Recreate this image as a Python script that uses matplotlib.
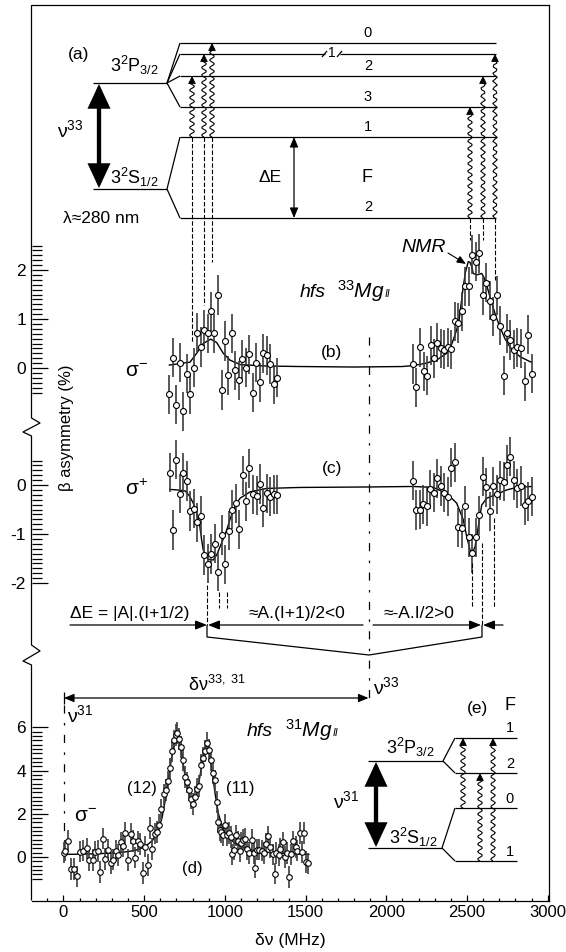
import numpy as np
import matplotlib
matplotlib.use('Agg')
import matplotlib.pyplot as plt
from matplotlib.ticker import FixedLocator, MultipleLocator

plt.rcParams['font.family'] = ['Liberation Sans', 'DejaVu Sans']
plt.rcParams['mathtext.fontset'] = 'custom'
plt.rcParams['mathtext.rm'] = 'Liberation Sans'
plt.rcParams['mathtext.it'] = 'Liberation Sans:italic'
plt.rcParams['mathtext.bf'] = 'Liberation Sans:bold'
plt.rcParams['axes.unicode_minus'] = False

# ------------------------------------------------------------------
# data: frequency offset (MHz) and beta asymmetry (%)
# ------------------------------------------------------------------
# (b) 33Mg, sigma-
b_left_mhz = [656, 677, 699, 722, 742, 765, 784, 807, 829, 852, 873, 895, 914, 934, 957, 980,
              1001, 1021, 1044, 1065, 1085, 1109, 1131, 1151, 1172, 1195, 1216, 1238, 1259, 1281, 1304, 1325]
b_left_asym = [-0.54, 0.21, -0.75, 0.11, -0.88, -0.12, -0.54, 0.01, 0.72, 0.43, 0.78, 0.71, 1.16, 0.71, 1.49, -0.45,
               0.55, -0.15, 0.71, -0.05, -0.25, 0.18, 0.01, 0.28, -0.5, 0.11, -0.29, 0.3, 0.26, 0.08, -0.33, -0.2]
b_right_mhz = [2167, 2186, 2209, 2232, 2252, 2275, 2296, 2316, 2337, 2359, 2382, 2403, 2424, 2446, 2469, 2490, 2512, 2531,
               2554, 2576, 2597, 2620, 2641, 2663, 2684, 2705, 2727, 2748, 2768, 2791, 2812, 2835, 2857, 2878, 2901]
b_right_asym = [0.08, -0.39, 0.42, -0.07, -0.16, 0.46, 0.2, 0.52, 0.4, 0.37, 0.42, 0.38, 0.95, 0.92, 1.16, 1.67, 1.67, 2.31,
                2.17, 2.34, 1.48, 1.74, 1.37, 1.05, 1.48, 0.86, -0.16, 0.71, 0.57, 0.37, 0.42, 0.4, -0.27, 0.68, -0.12]
fit_b_mhz = [656, 784, 825, 866, 912, 949, 990, 1032, 1094, 1259, 1465, 1800, 2100, 2167, 2250, 2320, 2374, 2405, 2436, 2450,
             2465, 2477, 2490, 2508, 2518, 2529, 2539, 2560, 2591, 2605, 2622, 2640, 2663, 2683, 2704, 2735, 2766, 2797,
             2829, 2890, 2901]
fit_b_asym = [0.06, 0.12, 0.3, 0.5, 0.59, 0.52, 0.3, 0.16, 0.07, 0.04, 0.03, 0.02, 0.03, 0.05, 0.1, 0.18, 0.3, 0.48, 0.78, 0.95,
              1.35, 1.66, 1.95, 2.17, 2.16, 2.07, 1.93, 1.9, 1.93, 1.85, 1.69, 1.48, 1.22, 1.02, 0.84, 0.6, 0.43, 0.32,
              0.23, 0.13, 0.12]

# (c) 33Mg, sigma+
c_left_mhz = [658, 678, 699, 722, 742, 765, 786, 809, 829, 852, 873, 895, 914, 937, 957, 980,
              1003, 1023, 1046, 1067, 1087, 1110, 1131, 1151, 1174, 1197, 1217, 1238, 1261, 1281, 1304, 1325]
c_left_asym = [0.25, -0.92, 0.52, -0.18, 0.25, 0.08, -0.53, -0.48, -0.76, -0.63, -1.43, -1.61, -1.41, -1.2, -1.77, -1.02,
               -1.62, -0.93, -0.5, -0.37, -0.9, 0.2, -0.33, 0.34, -0.19, -0.22, 0.02, -0.46, -0.17, -0.24, -0.19, -0.2]
c_right_mhz = [2167, 2186, 2209, 2229, 2252, 2273, 2296, 2316, 2337, 2359, 2382, 2403, 2424, 2446, 2469, 2490, 2511, 2531,
               2554, 2576, 2597, 2620, 2641, 2663, 2684, 2705, 2727, 2748, 2768, 2791, 2812, 2835, 2857, 2878, 2901]
c_right_asym = [0.09, -0.51, -0.5, -0.39, -0.43, -0.09, -0.16, 0.14, -0.02, -0.16, -0.24, 0.35, 0.46, -0.86, -0.88, -0.43,
                -1.07, -1.39, -1.07, -0.62, 0.17, -0.05, -0.54, -0.03, -0.19, 0.1, 0.07, 0.41, 0.58, 0.1, -0.07, -0.02,
                -0.41, -0.33, -0.24]
fit_c_mhz = [658, 700, 753, 780, 804, 825, 842, 855, 866, 897, 928, 950, 970, 990, 1011, 1030, 1052, 1072, 1094, 1156,
             1259, 1465, 1900, 2167, 2291, 2374, 2436, 2477, 2498, 2519, 2533, 2550, 2570, 2591, 2622, 2684, 2746, 2808, 2901]
fit_c_asym = [-0.09, -0.1, -0.12, -0.22, -0.37, -0.58, -0.78, -1.1, -1.33, -1.52, -1.53, -1.42, -1.26, -1.1, -0.92, -0.72,
              -0.51, -0.38, -0.27, -0.14, -0.07, -0.05, -0.04, -0.03, -0.05, -0.17, -0.37, -0.71, -1.05, -1.33, -1.39,
              -1.26, -0.85, -0.41, -0.27, -0.19, -0.1, -0.05, -0.03]

# (d) 31Mg, sigma-
d_mhz = [2, 12, 27, 47, 65, 83, 103, 123, 143, 161,
         181, 197, 211, 226, 244, 260, 276, 293, 309, 325,
         338, 354, 370, 383, 399, 417, 432, 446, 459, 475,
         491, 504, 522, 538, 551, 564, 580, 594, 607, 620,
         633, 645, 660, 672, 683, 695, 705, 717, 728, 740,
         751, 763, 776, 788, 801, 815, 828, 840, 852, 862,
         875, 891, 903, 914, 926, 939, 950, 958, 968, 978,
         990, 1000, 1010, 1024, 1035, 1046, 1057, 1068, 1080, 1091,
         1102, 1113, 1124, 1138, 1151, 1165, 1178, 1187, 1201, 1214,
         1228, 1241, 1254, 1268, 1281, 1295, 1308, 1319, 1333, 1344,
         1357, 1371, 1382, 1398, 1411, 1425, 1440, 1449, 1463, 1476,
         1487, 1501, 1512]
d_asym = [0.2, 0.3, 0.75, -0.55, -0.55, -0.9, 0.25, 0.3, 0.4, -0.15,
          -0.15, 0.22, 0.28, -0.7, 0.85, -0.08, 0.32, -0.3, -0.12, 0.3,
          0.08, 0.68, 0.52, 1.1, -0.15, 1.08, 0.75, -0.03, 0.72, 0.6,
          -0.75, 0.48, -0.38, 1.35, 0.38, 1.08, 1.15, 1.5, 2.2, 2.9,
          3.1, 3.5, 4.1, 4.9, 5.4, 5.65, 5.75, 5.45, 5.1, 4.5,
          3.7, 3.45, 3.1, 2.7, 2.45, 2.8, 3.15, 3.3, 4.25, 4.6,
          4.9, 5.3, 4.95, 4.5, 3.9, 3.55, 2.55, 1.6, 1.25, 1.15,
          1.03, 1.5, 1.0, 1.1, 0.92, 0.12, 0.34, 1.0, 0.72, 0.26,
          0.65, 0.8, 0.83, 0.38, 0.18, 0.8, 0.18, -0.49, 0.34, 0.34,
          0.3, 0.18, 0.62, 0.95, 0.46, 0.12, -0.77, 0.18, 0.08, 0.38,
          0.68, 0.0, 0.18, -0.92, 0.12, 0.72, 0.46, 0.3, 1.1, 0.23,
          1.12, -0.23, -0.3]
fit_d_mhz = [0, 100, 200, 300, 400, 450, 500, 550, 580, 610, 630, 650, 670, 690, 703, 715, 730, 750, 770, 790,
             805, 820, 840, 860, 878, 890, 902, 920, 940, 960, 980, 1000, 1030, 1060, 1100, 1150, 1200, 1300, 1400, 1520]
fit_d_asym = [0.12, 0.13, 0.15, 0.18, 0.25, 0.32, 0.45, 0.75, 1.1, 1.8, 2.6, 3.6, 4.6, 5.4, 5.7, 5.5, 4.9, 3.9, 3.1, 2.6,
              2.5, 2.8, 3.5, 4.4, 5.05, 5.2, 4.95, 4.0, 2.9, 2.0, 1.5, 1.15, 0.85, 0.65, 0.48, 0.35, 0.27, 0.19, 0.15, 0.12]

ERR_33 = 0.4   # typical error bar, panels (b), (c)
ERR_31 = 0.5   # typical error bar, panel (d)

assert len(d_mhz) == len(d_asym)

# ------------------------------------------------------------------
# layout (pixels of the 566 x 952 picture)
# ------------------------------------------------------------------
W, H = 566, 952
X0_PX, PX_PER_MHZ = 63.5, 0.1614        # 0 MHz position and scale
FL, FR, FT, FB = 31.5, 549.0, 5.0, 900.5  # frame
XLIM = ((FL - X0_PX) / PX_PER_MHZ, (FR - X0_PX) / PX_PER_MHZ)
LW = 0.9

fig = plt.figure(figsize=(W / 100, H / 100), dpi=100)

# frame axis carrying the frequency scale
ax = fig.add_axes([FL / W, 1 - FB / H, (FR - FL) / W, (FB - FT) / H])
ax.set_xlim(XLIM)
ax.set_ylim(0, 1)
ax.set_yticks([])
ax.spines['left'].set_visible(False)
for s in ('top', 'right', 'bottom'):
    ax.spines[s].set_linewidth(LW)
ax.xaxis.set_major_locator(MultipleLocator(500))
ax.xaxis.set_minor_locator(MultipleLocator(100))
ax.tick_params(axis='x', which='major', direction='in', length=4.5, width=LW, labelsize=12, pad=3)
ax.tick_params(axis='x', which='minor', direction='in', length=2.3, width=LW)
ax.set_xticks([0, 500, 1000, 1500, 2000, 2500, 3000])


def panel(top, bot, zero, scale, major, minor):
    a = fig.add_axes([FL / W, 1 - bot / H, (FR - FL) / W, (bot - top) / H])
    a.set_xlim(XLIM)
    a.set_ylim((zero - bot) / scale, (zero - top) / scale)
    a.patch.set_visible(False)
    for s in a.spines.values():
        s.set_visible(False)
    a.set_xticks([])
    a.yaxis.set_major_locator(FixedLocator(major))
    a.yaxis.set_minor_locator(FixedLocator(minor))
    a.set_yticklabels([str(m) for m in major])
    a.tick_params(axis='y', which='major', direction='in', length=11.5, width=LW, labelsize=12.5, pad=4)
    a.tick_params(axis='y', which='minor', direction='in', length=7.5, width=LW)
    return a


def draw(a, xs, ys, err, fx, fy, ms):
    a.plot(fx, fy, color='black', lw=1.0, zorder=2)
    a.errorbar(xs, ys, yerr=err, fmt='o', ms=ms, mfc='white', mec='black', mew=0.8,
               ecolor='#3c3c3c', elinewidth=1.2, capsize=0, zorder=3)


ax_b = panel(225, 445, 368, 49.0, [0, 1, 2], np.round(np.arange(-5, 26) * 0.1, 2))
draw(ax_b, b_left_mhz + b_right_mhz, b_left_asym + b_right_asym, ERR_33, fit_b_mhz, fit_b_asym, 4.3)

ax_c = panel(430, 615, 485, 49.0, [-2, -1, 0], np.round(np.arange(-20, 6) * 0.1, 2))
draw(ax_c, c_left_mhz + c_right_mhz, c_left_asym + c_right_asym, ERR_33, fit_c_mhz, fit_c_asym, 4.3)

ax_d = panel(700, FB, 857, 21.6, [0, 2, 4, 6], np.round(np.arange(-5, 31) * 0.2, 2))
draw(ax_d, d_mhz, d_asym, ERR_31, fit_d_mhz, fit_d_asym, 4.0)

# ------------------------------------------------------------------
# annotation layer in picture pixels
# ------------------------------------------------------------------
an = fig.add_axes([0, 0, 1, 1])
an.set_xlim(0, W)
an.set_ylim(H, 0)
an.axis('off')


def line(xs, ys, **kw):
    kw.setdefault('color', 'black')
    kw.setdefault('lw', LW)
    an.plot(xs, ys, solid_capstyle='butt', **kw)


def arrow(x0, y0, x1, y1, lw=LW, hl=0.7, hw=0.28, ms=10):
    an.annotate('', xy=(x1, y1), xytext=(x0, y0),
                arrowprops=dict(arrowstyle='-|>,head_length=%g,head_width=%g' % (hl, hw),
                                color='black', lw=lw, mutation_scale=ms,
                                shrinkA=0, shrinkB=0, joinstyle='miter'))


def big_arrow(x, y_top, y_bot):
    mid = (y_top + y_bot) / 2
    arrow(x, mid, x, y_top + 1, lw=3.1, hl=0.9, hw=0.42, ms=14)
    arrow(x, mid, x, y_bot - 1, lw=3.1, hl=0.9, hw=0.42, ms=14)


def wavy(x, y_bot, y_top):
    head = 5
    ys = np.linspace(y_bot, y_top + head, 80)
    xs = x + 2.3 * np.sin((ys - y_bot) * 2 * np.pi / 7.5)
    line(xs, ys, lw=0.8)
    arrow(x, y_top + head + 0.5, x, y_top, lw=0.6, hl=0.6, hw=0.3, ms=8)


DASH = (0, (4, 1.8))
DASHDOT = (0, (6.5, 7.5, 2, 7.5))

# left frame line with axis breaks
zig = [(FL, FT), (FL, 418), (FL + 8.5, 423), (FL - 8.5, 432), (FL, 436),
       (FL, 645), (FL + 8.5, 651), (FL - 8.5, 661), (FL, 665), (FL, FB)]
line([p[0] for p in zig], [p[1] for p in zig], clip_on=False)

# ---- (a) level scheme of 33Mg II ----
line([93, 167], [83, 83])
line([93, 167], [189, 189])
for y in (43, 54, 76, 107):
    line([167, 180], [83, y])
for y in (137, 218):
    line([167, 180], [189, y])
for y in (43, 76, 107, 137, 218):
    line([180, 496], [y, y])
line([180, 325], [54, 54])
line([340, 496], [54, 54])
line([322, 327], [57, 51])
line([337, 342], [57, 51])
an.text(332, 53, '1', ha='center', va='center', fontsize=10)
for txt, y in (('0', 33), ('2', 66), ('3', 97), ('1', 127), ('2', 207)):
    an.text(368, y, txt, ha='center', va='center', fontsize=10.5)
an.text(79, 54, '(a)', ha='center', va='center', fontsize=12.5)
an.text(110, 72, '3$^2$P$_{3/2}$', ha='left', va='baseline', fontsize=13)
an.text(110, 184, '3$^2$S$_{1/2}$', ha='left', va='baseline', fontsize=13)
an.text(57, 137, 'ν$^{33}$', ha='left', va='baseline', fontsize=14)
an.text(63, 223, 'λ≈280 nm', ha='left', va='baseline', fontsize=12.5)
big_arrow(99, 83, 189)
an.annotate('', xy=(294, 137), xytext=(294, 218),
            arrowprops=dict(arrowstyle='<|-|>,head_length=0.6,head_width=0.25', color='black',
                            lw=LW, mutation_scale=10, shrinkA=0, shrinkB=0))
an.text(270, 178, 'ΔE', ha='center', va='center', fontsize=12.5)
an.text(367, 178, 'F', ha='center', va='center', fontsize=13)

for x, yb, yt in ((192, 137, 76), (204, 137, 54), (212, 137, 43),
                  (470, 218, 107), (483, 218, 76), (495, 218, 54)):
    wavy(x, yb, yt)

# dashed guides from the level scheme to the resonances
for x, y0, y1 in ((192, 137, 342), (204, 137, 305), (212, 137, 262),
                  (470, 218, 240), (483, 218, 240), (495, 218, 280),
                  (207, 585, 625), (219, 592, 608), (227, 592, 608),
                  (472, 563, 608), (482, 543, 625), (494, 518, 608)):
    line([x, x], [y0, y1], ls=DASH, lw=0.8)

# centroid lines
line([369, 369], [337, 700], ls=DASHDOT)
line([X0_PX, X0_PX], [705, 841], ls=DASHDOT)

# (b) and (c) labels
an.text(125, 377, 'σ$^{-}$', ha='left', va='baseline', fontsize=15)
an.text(125, 495, 'σ$^{+}$', ha='left', va='baseline', fontsize=15)
an.text(332, 352, '(b)', ha='center', va='center', fontsize=12.5)
an.text(332, 468, '(c)', ha='center', va='center', fontsize=12.5)
an.text(326, 297, 'hfs', ha='right', va='baseline', fontsize=14, style='italic')
an.text(337, 298, r'$^{33}\mathit{Mg}$', ha='left', va='baseline', fontsize=15)
an.text(385, 297, 'II', ha='left', va='baseline', fontsize=7.5, style='italic')
an.text(424, 247, 'NMR', ha='center', va='center', fontsize=14, style='italic')
arrow(448, 253, 466, 264, lw=0.8, hl=0.6, hw=0.25, ms=9)

an.text(67, 428, 'β asymmetry (%)', ha='center', va='center', rotation=90, fontsize=12)

# hyperfine splitting arrows
Y_ARR = 625
arrow(70, Y_ARR, 207, Y_ARR)
arrow(363, Y_ARR, 208, Y_ARR)
arrow(373, Y_ARR, 481, Y_ARR)
arrow(503, Y_ARR, 483, Y_ARR)
an.text(70, 618, 'ΔE = |A|.(I+1/2)', ha='left', va='baseline', fontsize=12.5)
an.text(297, 618, '≈A.(I+1)/2<0', ha='center', va='baseline', fontsize=12.5)
an.text(419, 618, '≈-A.I/2>0', ha='center', va='baseline', fontsize=12.5)
line([207, 207, 369, 482, 482], [625, 637, 655, 637, 625])

# isotope shift
an.annotate('', xy=(X0_PX + 0.5, 698), xytext=(368.5, 698),
            arrowprops=dict(arrowstyle='<|-|>,head_length=0.6,head_width=0.25', color='black',
                            lw=LW, mutation_scale=10, shrinkA=0, shrinkB=0))
line([X0_PX, X0_PX], [692, 704])
an.text(217, 691, 'δν$^{33,\\ 31}$', ha='center', va='baseline', fontsize=13)
an.text(373, 694, 'ν$^{33}$', ha='left', va='baseline', fontsize=14)
an.text(67, 722, 'ν$^{31}$', ha='left', va='baseline', fontsize=14)

# (d) labels
an.text(273, 736, 'hfs', ha='right', va='baseline', fontsize=14, style='italic')
an.text(285, 737, r'$^{31}\mathit{Mg}$', ha='left', va='baseline', fontsize=15)
an.text(333, 736, 'II', ha='left', va='baseline', fontsize=7.5, style='italic')
an.text(142, 788, '(12)', ha='center', va='center', fontsize=12)
an.text(240, 788, '(11)', ha='center', va='center', fontsize=12)
an.text(74, 822, 'σ$^{-}$', ha='left', va='baseline', fontsize=15)
an.text(192, 868, '(d)', ha='center', va='center', fontsize=12)

# ---- (e) level scheme of 31Mg II ----
line([368, 443], [761, 761])
line([368, 442], [848, 848])
line([443, 455], [761, 738])
line([443, 455], [761, 773])
line([442, 455], [848, 808])
line([442, 455], [848, 861])
for y in (738, 773, 808, 861):
    line([455, 517], [y, y])
for txt, y in (('1', 728), ('2', 764), ('0', 799), ('1', 852)):
    an.text(510, y, txt, ha='center', va='center', fontsize=10.5)
an.text(478, 708, '(e)', ha='center', va='center', fontsize=12.5)
an.text(510, 705, 'F', ha='center', va='center', fontsize=13)
an.text(410, 754, '3$^2$P$_{3/2}$', ha='center', va='baseline', fontsize=13)
an.text(413, 844, '3$^2$S$_{1/2}$', ha='center', va='baseline', fontsize=13)
an.text(333, 808, 'ν$^{31}$', ha='left', va='baseline', fontsize=14)
big_arrow(376, 761, 848)
for x, yb, yt in ((463, 808, 738), (480, 861, 773), (493, 861, 738)):
    wavy(x, yb, yt)

an.text((FL + FR) / 2, 941, 'δν (MHz)', ha='center', va='center', fontsize=12.5)

fig.savefig('out.png', dpi=100)
